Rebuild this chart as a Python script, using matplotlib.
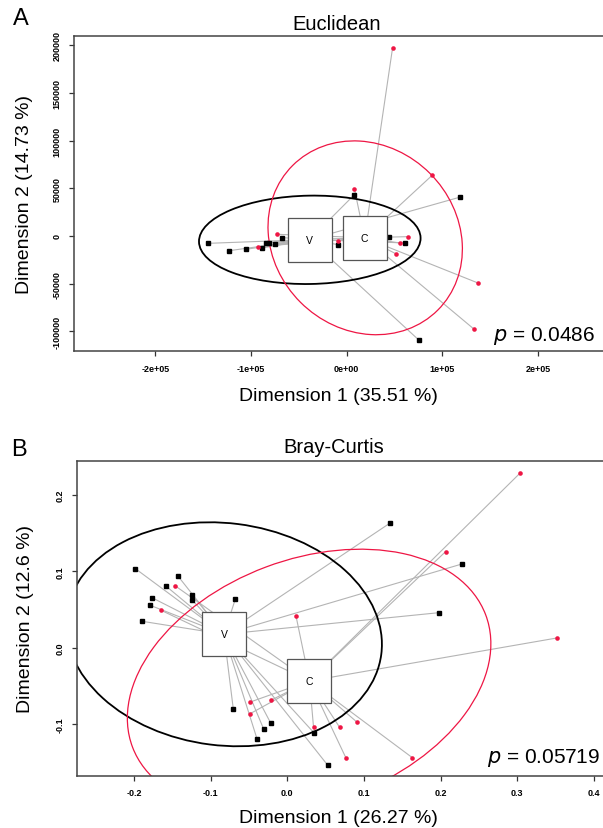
import matplotlib
matplotlib.use('Agg')
import matplotlib.pyplot as plt
from matplotlib.patches import Ellipse
from matplotlib.collections import LineCollection

plt.rcParams['font.family'] = ['Liberation Sans', 'DejaVu Sans']

# ---------------- Panel A: Euclidean ----------------
euc_v_x = [8000, 117900, -145000, -122900, -105500, -88700, -84600, -81400,
           -75400, -67300, -8900, 44600, 61200, 75300]
euc_v_y = [43300, 40600, -7700, -15400, -14000, -12600, -7000, -7300,
           -8000, -1700, -9100, -1000, -7300, -109000]
euc_c_x = [47850, 89300, 8000, -92700, -73300, -9600, 63600, 55500, 51100,
           137300, 132900]
euc_c_y = [196700, 63600, 49600, -11200, 1800, -4900, -700, -7300, -18500,
           -49300, -97500]
euc_centroid_v = (-38700, -3700)
euc_centroid_c = (18700, -1800)
# ellipse: centre x, centre y, semi-axis a, semi-axis b, angle (deg)
euc_ell_v = (-38600, -4000, 115800, 46300, 1.0)
euc_ell_c = (19300, -1900, 107200, 95600, -45.0)
euc_xticks = [-200000, -100000, 0, 100000, 200000]
euc_xticklabels = ['-2e+05', '-1e+05', '0e+00', '1e+05', '2e+05']
euc_yticks = [-100000, -50000, 0, 50000, 100000, 150000, 200000]
euc_yticklabels = ['-100000', '-50000', '0', '50000', '100000', '150000', '200000']
euc_xlim = (-284800, 272000)
euc_ylim = (-120840, 209290)
euc_title = 'Euclidean'
euc_xlabel = 'Dimension 1 (35.51 %)'
euc_ylabel = 'Dimension 2 (14.73 %)'
euc_p = '0.0486'

# ---------------- Panel B: Bray-Curtis ----------------
bc_v_x = [-0.1979, -0.1429, -0.1577, -0.1237, -0.1241, -0.1764, -0.1787,
          -0.1891, -0.0678, 0.1335, 0.2276, 0.1974, -0.0704, -0.0216,
          -0.0308, -0.0395, 0.0351, 0.0526]
bc_v_y = [0.1035, 0.0944, 0.0804, 0.0690, 0.0625, 0.0655, 0.0555, 0.0345,
          0.0634, 0.1631, 0.1097, 0.0458, -0.0802, -0.0990, -0.1068,
          -0.1195, -0.1121, -0.1541]
bc_c_x = [0.3037, 0.2064, -0.1463, -0.1652, 0.0115, 0.3514, -0.0482,
          -0.0216, -0.0491, 0.0343, 0.0683, 0.0907, 0.0766, 0.1632]
bc_c_y = [0.2291, 0.1259, 0.0812, 0.0493, 0.0411, 0.0126, -0.0714,
          -0.0692, -0.0871, -0.1046, -0.1046, -0.0976, -0.1449, -0.1445]
bc_centroid_v = (-0.0825, 0.0175)
bc_centroid_c = (0.0290, -0.0438)
bc_ell_v = (-0.0825, 0.0175, 0.2068, 0.1458, -7.3)
bc_ell_c = (0.0285, -0.0438, 0.2461, 0.1598, 20.7)
bc_xticks = [-0.2, -0.1, 0.0, 0.1, 0.2, 0.3, 0.4]
bc_xticklabels = ['-0.2', '-0.1', '0.0', '0.1', '0.2', '0.3', '0.4']
bc_yticks = [-0.1, 0.0, 0.1, 0.2]
bc_yticklabels = ['-0.1', '0.0', '0.1', '0.2']
bc_xlim = (-0.2738, 0.4170)
bc_ylim = (-0.1681, 0.2453)
bc_title = 'Bray-Curtis'
bc_xlabel = 'Dimension 1 (26.27 %)'
bc_ylabel = 'Dimension 2 (12.6 %)'
bc_p = '0.05719'

RED = '#EE1644'
W, H = 603, 829
fig = plt.figure(figsize=(W / 100, H / 100), dpi=100)


def add_axes_px(left, right, top, bottom):
    return fig.add_axes([left / W, 1 - bottom / H, (right - left) / W, (bottom - top) / H])


def panel(ax, vx, vy, cx, cy, cen_v, cen_c, ell_v, ell_c, xt, xtl, yt, ytl,
          xlim, ylim):
    segs = [[(x, y), cen_v] for x, y in zip(vx, vy)] + \
           [[(x, y), cen_c] for x, y in zip(cx, cy)]
    ax.add_collection(LineCollection(segs, colors='#b4b4b4', linewidths=0.8, zorder=1))
    for (ex, ey, a, b, ang), col, lw in [(ell_v, 'black', 1.3), (ell_c, RED, 0.9)]:
        ax.add_patch(Ellipse((ex, ey), 2 * a, 2 * b, angle=ang, fill=False,
                             edgecolor=col, linewidth=lw, zorder=2))
    ax.plot(vx, vy, 's', color='black', markersize=3.4, zorder=3, linestyle='none')
    ax.plot(cx, cy, 'o', color=RED, markersize=3.3, markeredgewidth=0, zorder=3,
            linestyle='none')
    for cen, lab in [(cen_v, 'V'), (cen_c, 'C')]:
        ax.plot([cen[0]], [cen[1]], 's', markersize=31.7, markerfacecolor='white',
                markeredgecolor='#555555', markeredgewidth=0.9, zorder=4)
        ax.text(cen[0], cen[1], lab, ha='center', va='center', fontsize=7.5, zorder=5)
    ax.set_xlim(*xlim)
    ax.set_ylim(*ylim)
    ax.set_xticks(xt)
    ax.set_xticklabels(xtl)
    ax.set_yticks(yt)
    ax.set_yticklabels(ytl, rotation=90, va='center')
    ax.tick_params(length=3.6, width=0.9, labelsize=6.5, pad=5.5, color='#333333')
    for lab in ax.get_xticklabels() + ax.get_yticklabels():
        lab.set_fontweight('bold')
    for s in ax.spines.values():
        s.set_color('#444444')
        s.set_linewidth(1.1)


axA = add_axes_px(74.2, 607, 37.3, 352.3)
panel(axA, euc_v_x, euc_v_y, euc_c_x, euc_c_y, euc_centroid_v, euc_centroid_c,
      euc_ell_v, euc_ell_c, euc_xticks, euc_xticklabels, euc_yticks,
      euc_yticklabels, euc_xlim, euc_ylim)
axB = add_axes_px(77.3, 607, 461.7, 776.7)
panel(axB, bc_v_x, bc_v_y, bc_c_x, bc_c_y, bc_centroid_v, bc_centroid_c,
      bc_ell_v, bc_ell_c, bc_xticks, bc_xticklabels, bc_yticks,
      bc_yticklabels, bc_xlim, bc_ylim)


def ftext(x, y, s, **kw):
    fig.text(x / W, 1 - y / H, s, **kw)


ftext(336.5, 24, euc_title, ha='center', va='center', fontsize=14.5)
ftext(338, 396.5, euc_xlabel, ha='center', va='center', fontsize=14)
ftext(25, 194.8, euc_ylabel, ha='center', va='center', rotation=90, fontsize=14)
ftext(21, 19, 'A', ha='center', va='center', fontsize=17)
ftext(595, 341, r'$\it{p}$ = ' + euc_p, ha='right', va='baseline', fontsize=15)

ftext(334, 447.7, bc_title, ha='center', va='center', fontsize=14.5)
ftext(338, 819, bc_xlabel, ha='center', va='center', fontsize=14)
ftext(26, 619.2, bc_ylabel, ha='center', va='center', rotation=90, fontsize=14)
ftext(19, 450, 'B', ha='center', va='center', fontsize=17)
ftext(600, 763.3, r'$\it{p}$ = ' + bc_p, ha='right', va='baseline', fontsize=15)

fig.savefig('out.png', dpi=100)
